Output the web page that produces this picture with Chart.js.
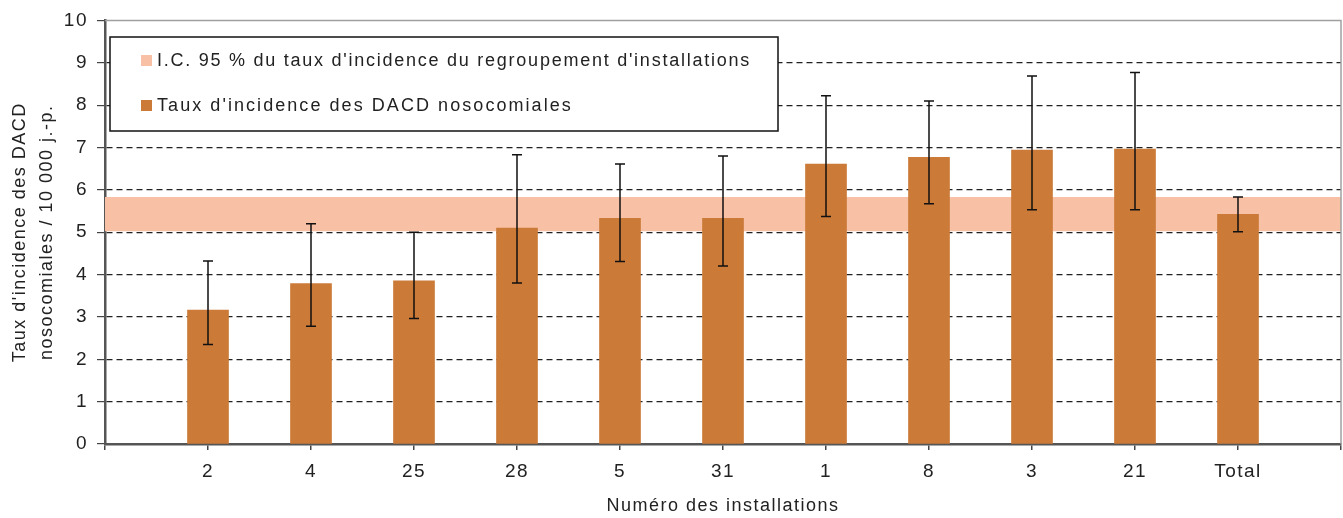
<!DOCTYPE html>
<html>
<head>
<meta charset="utf-8">
<script src="https://cdn.jsdelivr.net/npm/chart.js@4"></script>
<style>
  html, body { margin: 0; padding: 0; background: #fff; }
  canvas { display: block; }
</style>
</head>
<body>
<canvas id="incidenceChart" width="1343" height="518"></canvas>
<script>
// Installations (blank slots at both ends, as in the original axis)
const installations = ['', '2', '4', '25', '28', '5', '31', '1', '8', '3', '21', 'Total', ''];

// Taux d'incidence des DACD nosocomiales / 10 000 j.-p.
const taux = [null, 3.16, 3.79, 3.85, 5.10, 5.33, 5.33, 6.61, 6.77, 6.94, 6.96, 5.42, null];
const icBas = [null, 2.35, 2.78, 2.96, 3.80, 4.31, 4.20, 5.37, 5.67, 5.53, 5.53, 5.01, null];
const icHaut = [null, 4.32, 5.20, 5.00, 6.83, 6.61, 6.80, 8.22, 8.10, 8.69, 8.77, 5.83, null];

// I.C. 95 % of the pooled rate (band across the whole plot)
const regroupementBas = 5.02;
const regroupementHaut = 5.83;

const yTicks = [0, 1, 2, 3, 4, 5, 6, 7, 8, 9, 10];

const ORANGE = '#cc7a38';
const PEACH = '#f8c1a5';
const FONT = 'Liberation Sans, Arial, sans-serif';

Chart.defaults.font.family = FONT;
Chart.defaults.color = '#222';

// the original (Excel) text is set quite loose
const looseText = {
    id: 'looseText',
    beforeDraw(chart) { chart.ctx.letterSpacing = '1.5px'; }
};

// error bars on top of the bars
const errorBars = {
    id: 'errorBars',
    afterDatasetsDraw(chart) {
        const ctx = chart.ctx;
        const meta = chart.getDatasetMeta(0);
        const y = chart.scales.y;
        ctx.save();
        ctx.strokeStyle = '#111';
        ctx.lineWidth = 1.5;
        meta.data.forEach((bar, i) => {
            if (icBas[i] == null) return;
            const yl = y.getPixelForValue(icBas[i]);
            const yh = y.getPixelForValue(icHaut[i]);
            ctx.beginPath();
            ctx.moveTo(bar.x, yl); ctx.lineTo(bar.x, yh);
            ctx.moveTo(bar.x - 5, yl); ctx.lineTo(bar.x + 5, yl);
            ctx.moveTo(bar.x - 5, yh); ctx.lineTo(bar.x + 5, yh);
            ctx.stroke();
        });
        ctx.restore();
    }
};

// plot frame (top + right) and the boxed legend inside the plot
const frameAndLegend = {
    id: 'frameAndLegend',
    afterDraw(chart) {
        const ctx = chart.ctx;
        const a = chart.chartArea;
        ctx.save();
        ctx.strokeStyle = '#a0a0a0';
        ctx.lineWidth = 1.5;
        ctx.beginPath();
        ctx.moveTo(a.left, a.top); ctx.lineTo(a.right, a.top); ctx.lineTo(a.right, a.bottom);
        ctx.stroke();

        // legend box
        const bx = 110, by = 37, bw = 668, bh = 94;
        ctx.fillStyle = '#fff';
        ctx.fillRect(bx, by, bw, bh);
        ctx.strokeStyle = '#111';
        ctx.lineWidth = 1.5;
        ctx.strokeRect(bx, by, bw, bh);

        const items = [
            { text: "I.C. 95 % du taux d'incidence du regroupement d'installations", color: PEACH, y: 61, w: 592 },
            { text: "Taux d'incidence des DACD nosocomiales", color: ORANGE, y: 106, w: 414 }
        ];
        ctx.font = '18px ' + FONT;
        ctx.textBaseline = 'middle';
        ctx.textAlign = 'left';
        items.forEach(it => {
            ctx.fillStyle = it.color;
            ctx.fillRect(141, it.y - 6, 11, 11);
            ctx.letterSpacing = '0px';
            const w = ctx.measureText(it.text).width;
            const sp = Math.max(0, (it.w - w) / (it.text.length - 1));
            ctx.letterSpacing = sp.toFixed(2) + 'px';
            ctx.fillStyle = '#222';
            ctx.fillText(it.text, 157, it.y);
        });
        ctx.restore();
    }
};

const ctx = document.getElementById('incidenceChart').getContext('2d');
const incidenceChart = new Chart(ctx, {
    data: {
        labels: installations,
        datasets: [
            {
                type: 'bar',
                label: "Taux d'incidence des DACD nosocomiales",
                data: taux,
                backgroundColor: ORANGE,
                barThickness: 41,
                order: 0
            },
            {
                type: 'line',
                label: 'IC bas',
                data: installations.map(() => regroupementBas),
                borderWidth: 0,
                pointRadius: 0,
                fill: false,
                order: 2
            },
            {
                type: 'line',
                label: "I.C. 95 % du taux d'incidence du regroupement d'installations",
                data: installations.map(() => regroupementHaut),
                borderWidth: 0,
                pointRadius: 0,
                backgroundColor: PEACH,
                fill: '-1',
                order: 1
            }
        ]
    },
    options: {
        responsive: false,
        animation: false,
        devicePixelRatio: 1,
        layout: { padding: { top: 20, right: 2, left: 0, bottom: 0 } },
        plugins: {
            legend: { display: false },
            tooltip: { enabled: false }
        },
        scales: {
            x: {
                type: 'category',
                offset: false,
                grid: { offset: false, drawOnChartArea: false, drawTicks: true, tickLength: 6, color: '#444', lineWidth: 1.5 },
                border: { color: '#555', width: 2.5 },
                ticks: { autoSkip: false, maxRotation: 0, padding: 10, font: { size: 19 }, color: '#222' },
                title: { display: true, text: 'Numéro des installations', font: { size: 18 }, color: '#222', padding: { top: 8, bottom: 1 } },
                afterFit(scale) {
                    scale.height = 74;
                    scale.paddingLeft = 0;
                    scale.paddingRight = 0;
                }
            },
            y: {
                min: 0,
                max: 10,
                afterBuildTicks(scale) { scale.ticks = yTicks.map(v => ({ value: v })); },
                grid: {
                    color: c => (c.tick && (c.tick.value === 0 || c.tick.value === 10)) ? 'rgba(0,0,0,0)' : '#222',
                    tickColor: '#444',
                    lineWidth: 1.2,
                    tickLength: 8,
                    drawTicks: true
                },
                border: { color: '#555', width: 2.5, dash: [6, 4] },
                ticks: { padding: 9, font: { size: 19 }, color: '#222' },
                title: {
                    display: true,
                    text: ["Taux d'incidence des DACD", 'nosocomiales / 10 000 j.-p.'],
                    font: { size: 18, lineHeight: 1.5 },
                    color: '#222',
                    padding: { top: 7, bottom: 0 }
                },
                afterFit(scale) { scale.width = 105; }
            }
        }
    },
    plugins: [looseText, errorBars, frameAndLegend]
});
</script>
</body>
</html>
